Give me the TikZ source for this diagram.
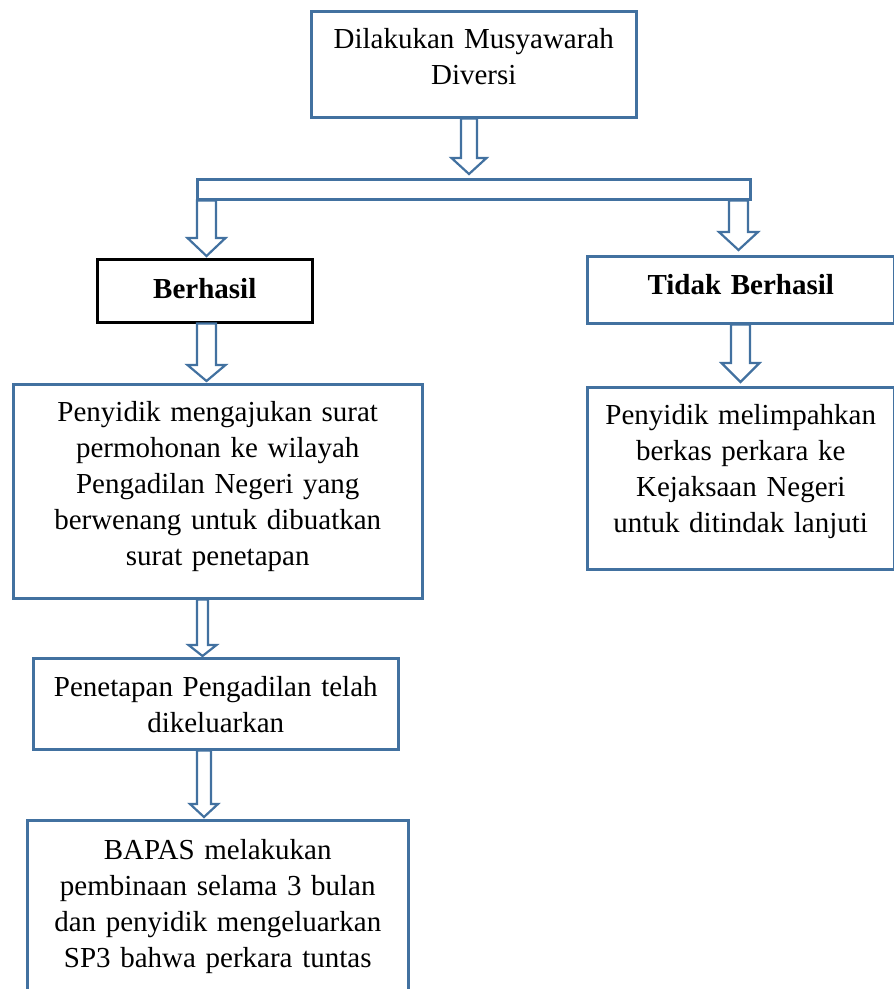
\documentclass[tikz,border=0pt]{standalone}
\usepackage{fontspec}
\setmainfont{Liberation Serif}
\usetikzlibrary{calc}
\definecolor{wordblue}{RGB}{66,113,160}
\tikzset{
  box/.style={draw=wordblue, line width=2.5pt, fill=white, rectangle, inner sep=0pt, anchor=north west, align=center,
    font=\fontsize{29}{36}\selectfont},
  blackbox/.style={box, draw=black},
  blockarr/.style={draw=wordblue, fill=white, line width=2.2pt, line join=miter},
}
% #1 x (px), #2 source node, #3 target node, #4 shaft half width, #5 head half width, #6 head length, #7 gap before target
\newcommand{\blockarrow}[7]{%
  \path[blockarr] let \p1=(#2.south), \p2=(#3.north) in
    ({(#1-#4)*1pt},{\y1}) -- ({(#1+#4)*1pt},{\y1}) -- ({(#1+#4)*1pt},{\y2+#7pt+#6pt})
    -- ({(#1+#5)*1pt},{\y2+#7pt+#6pt}) -- ({#1*1pt},{\y2+#7pt})
    -- ({(#1-#5)*1pt},{\y2+#7pt+#6pt}) -- ({(#1-#4)*1pt},{\y2+#7pt+#6pt}) -- cycle;}
\begin{document}
\begin{tikzpicture}[x=1pt,y=-1pt]
\useasboundingbox (0,0) rectangle (894,989);
\node[box, minimum width=325pt, text width=315pt, text height=37pt, text depth=69pt] (top) at (310,10)
  {Dilakukan Musyawarah\\Diversi};
\node[box, minimum width=553pt, minimum height=20pt] (bar) at (196,178) {};
\node[blackbox, minimum width=215pt, text width=205pt, text height=39pt, text depth=24pt] (ok) at (96,258)
  {\textbf{Berhasil}};
\node[box, minimum width=307pt, text width=297pt, text height=38pt, text depth=29pt] (notok) at (586,255)
  {\textbf{Tidak Berhasil}};
\node[box, minimum width=409pt, text width=399pt, text height=37pt, text depth=177pt] (ajukan) at (12,383)
  {Penyidik mengajukan surat\\permohonan ke wilayah\\Pengadilan Negeri yang\\berwenang untuk dibuatkan\\surat penetapan};
\node[box, minimum width=307pt, text width=297pt, text height=37pt, text depth=145pt] (limpah) at (586,386)
  {Penyidik melimpahkan\\berkas perkara ke\\Kejaksaan Negeri\\untuk ditindak lanjuti};
\node[box, minimum width=365pt, text width=355pt, text height=38pt, text depth=53pt] (tetap) at (32,657)
  {Penetapan Pengadilan telah\\dikeluarkan};
\node[box, minimum width=381pt, text width=371pt, text height=39pt, text depth=152pt] (bapas) at (26,819)
  {BAPAS melakukan\\pembinaan selama 3 bulan\\dan penyidik mengeluarkan\\SP3 bahwa perkara tuntas};
\blockarrow{469}{top}{bar}{8}{17.5}{16}{4}
\blockarrow{206.5}{bar}{ok}{9.5}{19}{18}{2}
\blockarrow{738.5}{bar}{notok}{9.5}{19.5}{18}{5}
\blockarrow{206.5}{ok}{ajukan}{9.5}{19}{16}{2}
\blockarrow{740.5}{notok}{limpah}{9.5}{19}{19}{4}
\blockarrow{202.5}{ajukan}{tetap}{5.5}{14}{11}{1}
\blockarrow{204}{tetap}{bapas}{7}{14}{13}{2}
\end{tikzpicture}
\end{document}
